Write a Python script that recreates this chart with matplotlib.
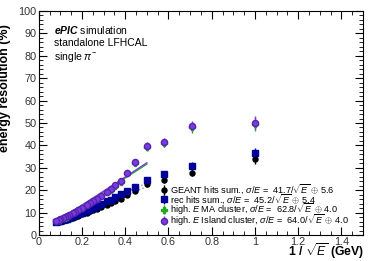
import matplotlib.pyplot as plt
import numpy as np
from matplotlib.ticker import MultipleLocator

plt.rcParams['font.family'] = ['Liberation Sans', 'DejaVu Sans']
plt.rcParams['mathtext.fontset'] = 'custom'
plt.rcParams['mathtext.rm'] = 'Liberation Sans'
plt.rcParams['mathtext.it'] = 'Liberation Sans:italic'
plt.rcParams['mathtext.bf'] = 'Liberation Sans:italic:bold'

# beam energies (GeV)
energies = [1, 2, 3, 4, 5, 6, 7, 8, 9, 10, 12, 14, 16, 18, 20, 25, 30, 35, 40,
            50, 60, 70, 80, 100, 120, 150]

res_geant = [33.8, 27.8, 24.5, 22.6, 19.8, 18.0, 16.2, 15.3, 14.4, 13.6, 12.5, 11.6, 11.0,
             10.5, 10.0, 9.2, 8.6, 8.1, 7.8, 7.2, 6.8, 6.6, 6.4, 6.1, 5.9, 5.8]
res_rec = [36.7, 30.8, 27.1, 24.5, 21.6, 19.6, 18.2, 16.8, 15.8, 15.0, 13.7, 12.8, 12.0,
           11.4, 10.9, 10.0, 9.3, 8.8, 8.4, 7.8, 7.3, 7.0, 6.8, 6.4, 6.2, 6.0]
res_ma = [49.5, 48.0, 41.0, 39.2, 32.3, 27.5, 23.8, 22.0, 20.2, 19.0, 17.2, 16.0, 15.0,
          14.2, 13.4, 12.0, 11.0, 10.3, 9.7, 8.8, 8.2, 7.8, 7.4, 6.9, 6.6, 6.2]
res_island = [50.1, 48.7, 41.4, 39.7, 32.7, 27.8, 24.1, 22.3, 20.5, 19.3, 17.5, 16.2, 15.2,
              14.4, 13.6, 12.2, 11.2, 10.4, 9.8, 8.9, 8.3, 7.9, 7.5, 7.0, 6.7, 6.3]

err_geant = [2.0, 1.6, 1.3, 1.1, 0.9, 0.8, 0.7, 0.6, 0.6, 0.5, 0.5, 0.4, 0.4,
             0.4, 0.3, 0.3, 0.3, 0.3, 0.2, 0.2, 0.2, 0.2, 0.2, 0.2, 0.2, 0.2]
err_island = [3.0, 2.4, 1.9, 1.6, 1.3, 1.1, 1.0, 0.9, 0.8, 0.7, 0.6, 0.6, 0.5,
              0.5, 0.5, 0.4, 0.4, 0.4, 0.3, 0.3, 0.3, 0.3, 0.3, 0.3, 0.3, 0.3]

# fit parameters: sigma/E = a/sqrt(E) (+) b
fit_geant = (41.7, 5.6)
fit_rec = (45.2, 5.4)
fit_ma = (62.8, 4.0)
fit_island = (64.0, 4.0)

x = 1 / np.sqrt(np.array(energies, dtype=float))

fig = plt.figure(figsize=(3.7, 2.61), dpi=100)
ax = fig.add_axes([0.105, 0.0996, 0.876, 0.8584])

c_geant = 'black'
c_rec = '#000099'
c_ma = '#22aa22'
c_island = '#7a3de0'

ax.errorbar(x, res_geant, yerr=err_geant, fmt='o', ms=3.6, color=c_geant, elinewidth=1, capsize=0,
            label=r'GEANT hits sum., $\sigma/\mathit{E}$ =  41.7/$\sqrt{\mathit{E}}$ $\oplus$ 5.6')
ax.errorbar(x, res_rec, yerr=err_geant, fmt='s', ms=3.8, color=c_rec, elinewidth=1, capsize=0,
            label=r'rec hits sum., $\sigma/\mathit{E}$ =  45.2/$\sqrt{\mathit{E}}$ $\oplus$ 5.4')
ax.errorbar(x, res_ma, yerr=err_island, fmt='P', ms=4, color=c_ma, elinewidth=1, capsize=0,
            label=r'high. $\mathit{E}$ MA cluster, $\sigma/\mathit{E}$ =  62.8/$\sqrt{\mathit{E}}$ $\oplus$ 4.0')
ax.errorbar(x, res_island, yerr=err_island, fmt='o', ms=4.4, color=c_island, mec='#5a20b0',
            elinewidth=1, capsize=0,
            label=r'high. $\mathit{E}$ Island cluster, $\sigma/\mathit{E}$ =  64.0/$\sqrt{\mathit{E}}$ $\oplus$ 4.0')

xf = np.linspace(0.08, 0.5, 100)
for (a, b), col, ls in [(fit_geant, '#999999', ':'), (fit_rec, '#8888cc', ':'),
                        (fit_ma, c_ma, '-'), (fit_island, c_island, '-')]:
    ax.plot(xf, np.sqrt((a * xf) ** 2 + b ** 2), color=col, ls=ls, lw=1, zorder=1)

ax.set_xlim(0, 1.5)
ax.set_ylim(0, 100)
ax.xaxis.set_major_locator(MultipleLocator(0.2))
ax.xaxis.set_minor_locator(MultipleLocator(0.05))
ax.yaxis.set_major_locator(MultipleLocator(10))
ax.yaxis.set_minor_locator(MultipleLocator(2))
ax.tick_params(which='both', direction='in', top=True, right=True, labelsize=7.8,
               labelcolor='#333333', pad=1.5)
ax.tick_params(which='major', length=6)
ax.tick_params(which='minor', length=3)
ax.set_xticks([0, 0.2, 0.4, 0.6, 0.8, 1, 1.2, 1.4])
ax.set_xticklabels(['0', '0.2', '0.4', '0.6', '0.8', '1', '1.2', '1.4'])

ax.set_ylabel('energy resolution (%)', fontsize=9, fontweight='bold')
ax.yaxis.set_label_coords(-0.085, 0.655)
fig.text(0.985, 0.0, r'1 / $\sqrt{\mathit{E}}$ (GeV)', ha='right', va='bottom',
         fontsize=8.8, fontweight='bold')

ax.text(0.046, 0.915, r'$\mathbf{ePIC}$ simulation', transform=ax.transAxes, fontsize=7.5,
        va='center')
ax.text(0.046, 0.857, 'standalone LFHCAL', transform=ax.transAxes, fontsize=7.5, va='center')
ax.text(0.046, 0.795, r'single $\pi^{-}$', transform=ax.transAxes, fontsize=7.5, va='center')

ax.legend(loc='lower left', bbox_to_anchor=(0.355, 0.012), frameon=False, fontsize=6.6,
          handletextpad=0.1, handlelength=1.2, labelspacing=-0.5, borderpad=0)

fig.savefig('out.png', dpi=100)
